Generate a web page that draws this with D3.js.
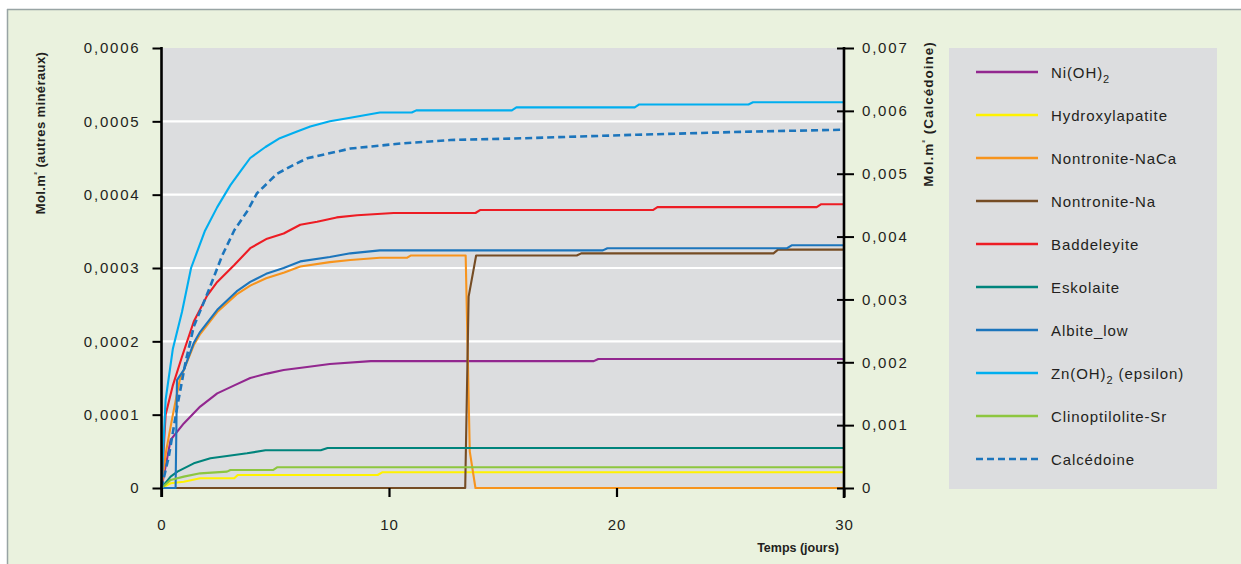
<!DOCTYPE html>
<html><head><meta charset="utf-8">
<script src="https://cdn.jsdelivr.net/npm/d3@7"></script>
<style>
html,body{margin:0;padding:0;background:#fff;}
svg{display:block;}
text{font-family:"Liberation Sans",Arial,sans-serif;fill:#231f20;}
</style></head>
<body><svg id="c" width="1241" height="564"></svg>
<script>
// ---------- data (time in days, values in mol.m-2) ----------
const xTicks = [0, 10, 20, 30];
const yLeftTicks = [0, 0.0001, 0.0002, 0.0003, 0.0004, 0.0005, 0.0006];
const yRightTicks = [0, 0.001, 0.002, 0.003, 0.004, 0.005, 0.006, 0.007];

const niOH2 = [[0,0],[0.4,0.0000655],[0.98,0.000088],[1.7,0.000111],[2.45,0.000129],[3.2,0.00014],[3.9,0.00015],[4.64,0.000156],[5.37,0.000161],[6.4,0.000165],[7.4,0.000169],[9.2,0.000173],[19.0,0.000173],[19.2,0.000176],[30,0.000176]];
const hydroxylapatite = [[0,0],[0.4,0.0000064],[0.98,0.0000086],[1.7,0.0000132],[3.2,0.0000132],[3.35,0.0000177],[9.5,0.0000177],[9.7,0.0000214],[30,0.0000214]];
const nontroniteNaCa = [[0,0],[0.2,0.00005],[0.5,0.0001],[0.8,0.000147],[1.42,0.000195],[1.7,0.00021],[2.45,0.00024],[3.3,0.000264],[3.9,0.000276],[4.6,0.000286],[5.4,0.000294],[6.1,0.000302],[7.4,0.000308],[8.3,0.000311],[9.6,0.000314],[10.8,0.000314],[10.95,0.000317],[13.37,0.000317],[13.55,0.00005],[13.8,0],[30,0]];
const nontroniteNa = [[0,0],[13.35,0],[13.5,0.000261],[13.83,0.000317],[18.25,0.000317],[18.45,0.00032],[26.9,0.00032],[27.1,0.000325],[30,0.000325]];
const baddeleyite = [[0,0],[0.18,0.0001],[0.5,0.00014],[0.9,0.000179],[1.42,0.000227],[2.0,0.000262],[2.45,0.000281],[3.2,0.000304],[3.9,0.000327],[4.64,0.00034],[5.37,0.000347],[6.1,0.000359],[6.84,0.000363],[7.7,0.000369],[8.6,0.000372],[10.2,0.000375],[13.8,0.000375],[14.0,0.000379],[21.6,0.000379],[21.8,0.000383],[28.8,0.000383],[29.0,0.000387],[30,0.000387]];
const eskolaite = [[0,0],[0.1,0.000004],[0.4,0.0000155],[0.7,0.0000223],[1.42,0.0000336],[2.15,0.0000405],[2.88,0.0000436],[3.76,0.0000473],[4.57,0.0000514],[7.0,0.0000514],[7.3,0.0000545],[30,0.0000545]];
const albiteLow = [[0,0],[0.62,0],[0.68,0.000147],[0.98,0.000161],[1.42,0.000198],[1.7,0.000213],[2.45,0.000243],[3.3,0.000268],[3.9,0.000281],[4.6,0.000292],[5.37,0.0003],[6.1,0.000309],[7.4,0.000315],[8.3,0.00032],[9.6,0.000324],[19.4,0.000324],[19.6,0.000327],[27.5,0.000327],[27.7,0.000331],[30,0.000331]];
const znOH2 = [[0,0],[0.18,0.00012],[0.5,0.00019],[0.9,0.00024],[1.3,0.0003],[1.9,0.00035],[2.45,0.000383],[3.03,0.000413],[3.5,0.000433],[3.9,0.00045],[4.57,0.000465],[5.2,0.000477],[5.96,0.000486],[6.54,0.000493],[7.4,0.0005],[8.3,0.000505],[9.6,0.000512],[11.0,0.000512],[11.2,0.000515],[15.4,0.000515],[15.6,0.000519],[20.8,0.000519],[21.0,0.000523],[25.8,0.000523],[26.0,0.000526],[30,0.000526]];
const clinoptiloliteSr = [[0,0],[0.4,0.0000109],[0.98,0.0000155],[1.7,0.00002],[2.88,0.0000223],[3.03,0.0000245],[4.9,0.0000245],[5.08,0.0000282],[30,0.0000282]];
const calcedoine = [[0,0],[0.32,0.0005],[0.69,0.00129],[1.05,0.00199],[1.42,0.00257],[2.08,0.00315],[2.67,0.0037],[3.2,0.0041],[3.76,0.0044],[4.2,0.00469],[5.08,0.005],[5.8,0.00514],[6.4,0.005245],[8.3,0.0054],[10.5,0.00548],[12.7,0.005536],[15.5,0.00556],[20.9,0.00562],[25.9,0.00567],[30,0.0057]];

const seriesNames = ["Ni(OH)2","Hydroxylapatite","Nontronite-NaCa","Nontronite-Na","Baddeleyite","Eskolaite","Albite_low","Zn(OH)2 (epsilon)","Clinoptilolite-Sr","Calcédoine"];
const seriesData = [niOH2, hydroxylapatite, nontroniteNaCa, nontroniteNa, baddeleyite, eskolaite, albiteLow, znOH2, clinoptiloliteSr, calcedoine];
const seriesColors = ["#92278f","#fff200","#f7941d","#754c24","#ed1c24","#00847c","#1c75bc","#00aeef","#8dc63f","#1c75bc"];
const seriesAxis = ["L","L","L","L","L","L","L","L","L","R"];

// ---------- layout ----------
const svg = d3.select("#c");
const W = 1241, H = 564;
const X0 = 161.5, X1 = 844, Y0 = 488, Y1 = 48;

svg.append("rect").attr("x",7).attr("y",9).attr("width",W-7).attr("height",H-9).attr("fill","#eaf2de");
svg.append("line").attr("x1",7.5).attr("x2",7.5).attr("y1",9).attr("y2",H).attr("stroke","#98a4a4").attr("stroke-width",1.5);
svg.append("line").attr("x1",7).attr("x2",W).attr("y1",9.5).attr("y2",9.5).attr("stroke","#98a4a4").attr("stroke-width",1.5);

const x = d3.scaleLinear().domain([0,30]).range([X0,X1]);
const yL = d3.scaleLinear().domain([0,0.0006]).range([Y0,Y1]);
const yR = d3.scaleLinear().domain([0,0.007]).range([Y0,Y1]);

// plot background
svg.append("rect").attr("x",X0).attr("y",Y1).attr("width",X1-X0).attr("height",Y0-Y1+1).attr("fill","#dcdddf");
// gridlines
svg.append("g").selectAll("line").data(yLeftTicks.filter(d=>d>0 && d<0.0006)).join("line")
  .attr("x1",X0).attr("x2",X1).attr("y1",d=>yL(d)).attr("y2",d=>yL(d))
  .attr("stroke","#ffffff").attr("stroke-width",2.2);

// lines
const g = svg.append("g");
seriesData.forEach((data,i)=>{
  const ys = seriesAxis[i]==="R" ? yR : yL;
  const line = d3.line().x(d=>x(d[0])).y(d=>ys(d[1]));
  const p = g.append("path").datum(data).attr("d",line).attr("fill","none")
    .attr("stroke",seriesColors[i]).attr("stroke-width", seriesAxis[i]==="R"?2.6:2.1)
    .attr("stroke-linejoin","round");
  if (seriesAxis[i]==="R") p.attr("stroke-dasharray","7,4");
});

// left axis
const fmtL = d => d===0 ? "0" : d.toFixed(4).replace(".",",");
const fmtR = d => d===0 ? "0" : d.toFixed(3).replace(".",",");
const axL = svg.append("g").attr("transform",`translate(${X0},0)`)
  .call(d3.axisLeft(yL).tickValues(yLeftTicks).tickSize(9).tickPadding(12).tickFormat(fmtL));
axL.select(".domain").remove();
axL.selectAll(".tick line").attr("stroke","#000").attr("stroke-width",2);
axL.selectAll(".tick text").attr("font-size",15).attr("letter-spacing","1.8px").attr("fill","#231f20")
  .style("font-family",'"Liberation Sans",Arial,sans-serif');
svg.append("line").attr("x1",X0).attr("x2",X0).attr("y1",Y1-1).attr("y2",Y0+9).attr("stroke","#000").attr("stroke-width",2.6);

// right axis
const axR = svg.append("g").attr("transform",`translate(${X1},0)`)
  .call(d3.axisRight(yR).tickValues(yRightTicks).tickSize(10).tickPadding(8).tickFormat(fmtR));
axR.select(".domain").remove();
axR.selectAll(".tick line").attr("x1",-7).attr("stroke","#000").attr("stroke-width",2);
axR.selectAll(".tick text").attr("font-size",15).attr("letter-spacing","1.8px").attr("fill","#231f20")
  .style("font-family",'"Liberation Sans",Arial,sans-serif');
svg.append("line").attr("x1",X1).attr("x2",X1).attr("y1",Y1-1).attr("y2",Y0+10).attr("stroke","#000").attr("stroke-width",2.6);

// bottom axis
const axB = svg.append("g").attr("transform",`translate(0,${Y0})`)
  .call(d3.axisBottom(x).tickValues(xTicks).tickSize(9).tickFormat(d3.format("d")));
axB.select(".domain").remove();
axB.selectAll(".tick line").attr("stroke","#000").attr("stroke-width",2.2);
axB.selectAll(".tick text").attr("font-size",15).attr("letter-spacing","1px").attr("y",42).attr("dy",0).attr("fill","#231f20")
  .style("font-family",'"Liberation Sans",Arial,sans-serif');

// axis titles
const tL = svg.append("text").attr("transform","translate(45,133) rotate(-90)").attr("text-anchor","middle")
  .attr("font-size",13).attr("letter-spacing","0.4px").attr("font-weight","bold");
tL.append("tspan").text("Mol.m");
tL.append("tspan").attr("font-size",8).attr("dy",-5).text("²");
tL.append("tspan").attr("dy",5).text(" (autres minéraux)");
const tR = svg.append("text").attr("transform","translate(933,114) rotate(-90)").attr("text-anchor","middle")
  .attr("font-size",13.5).attr("letter-spacing","1px").attr("font-weight","bold");
tR.append("tspan").text("Mol.m");
tR.append("tspan").attr("font-size",8).attr("dy",-5).text("²");
tR.append("tspan").attr("dy",5).text(" (Calcédoine)");
svg.append("text").attr("x",798).attr("y",552).attr("text-anchor","middle").attr("font-size",12.5).attr("font-weight","bold").text("Temps (jours)");

// legend
svg.append("rect").attr("x",949).attr("y",48).attr("width",268).attr("height",441).attr("fill","#dcdddf");
const legY = d3.scalePoint().domain(seriesNames).range([72,459]);
const leg = svg.append("g").selectAll("g").data(seriesNames).join("g").attr("transform",d=>`translate(0,${legY(d)})`);
leg.append("line").attr("x1",976).attr("x2",1038).attr("y1",0).attr("y2",0)
  .attr("stroke",(d,i)=>seriesColors[i]).attr("stroke-width",2.6)
  .attr("stroke-dasharray",(d,i)=>seriesAxis[i]==="R"?"7,4":null);
leg.append("text").attr("x",1051).attr("y",5.5).attr("font-size",15).attr("letter-spacing","0.9px")
  .each(function(d){
    const t = d3.select(this);
    const m = d.match(/^(.*\(OH\))2(.*)$/);
    if (m) {
      t.append("tspan").text(m[1]);
      t.append("tspan").attr("font-size",11).attr("dy",5).text("2");
      t.append("tspan").attr("dy",-5).text(m[2]);
    } else t.text(d);
  });
</script></body></html>
